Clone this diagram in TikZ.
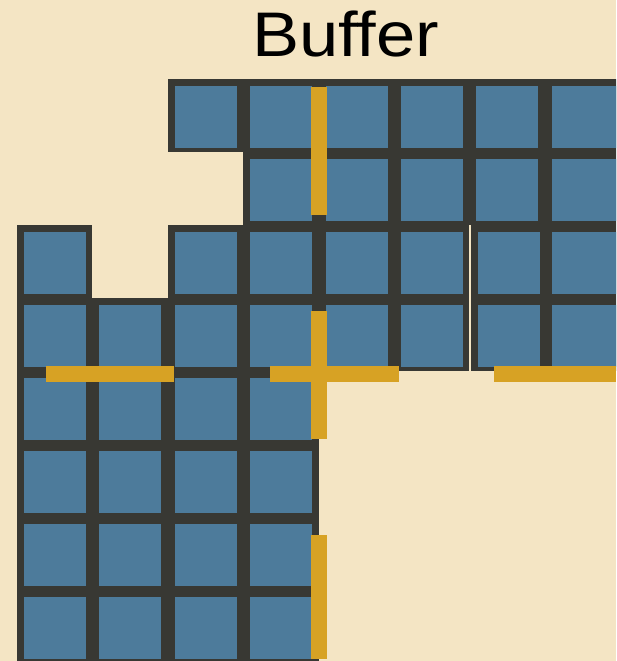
\documentclass[tikz,border=0pt]{standalone}
\usepackage{fontspec}
\setmainfont{Liberation Sans}
\definecolor{bg}{HTML}{F4E5C4}
\definecolor{cellborder}{HTML}{383833}
\definecolor{cellfill}{HTML}{4D7B9B}
\definecolor{barcol}{HTML}{D7A224}
\tikzset{
  cellouter/.style={fill=cellborder},
  cellinner/.style={fill=cellfill},
  barstyle/.style={fill=barcol},
  titlestyle/.style={inner sep=0pt, anchor=base, text=black}
}
\newcommand\gridcell[3]{% col,row,xshift
  \pgfmathsetmacro\cx{17+75.4*#1+#3}
  \pgfmathsetmacro\cy{79+73*#2}
  \fill[cellouter] (\cx,\cy) rectangle ++(75.4,73);
  \ifnum#1=7
    \fill[cellinner] (\cx+7,\cy+7) rectangle ++(80,61.5);
  \else
    \fill[cellinner] (\cx+7,\cy+7) rectangle ++(62,61.5);
  \fi
}
\begin{document}
\begin{tikzpicture}[x=1pt,y=-1pt]
  \useasboundingbox (0,0) rectangle (616,661);
  \fill[bg] (0,0) rectangle (616,661);
  \clip (0,0) rectangle (616,661);
  % row 0
  \foreach \c in {2,...,7} {\gridcell{\c}{0}{0}}
  % row 1
  \foreach \c in {3,...,7} {\gridcell{\c}{1}{0}}
  % rows 2 and 3
  \foreach \r in {2,3} {
    \gridcell{0}{\r}{0}
    \foreach \c in {2,...,5} {\gridcell{\c}{\r}{0}}
    \gridcell{6}{\r}{1.8}
    \gridcell{7}{\r}{0}
  }
  \gridcell{1}{3}{0}
  % rows 4 to 7
  \foreach \r in {4,...,7} {
    \foreach \c in {0,...,3} {\gridcell{\c}{\r}{0}}
  }
  % orange bars
  \fill[barstyle] (311,87) rectangle (327,215);
  \fill[barstyle] (46,366) rectangle (174,382);
  \fill[barstyle] (311,311) rectangle (327,439);
  \fill[barstyle] (270,366) rectangle (399,382);
  \fill[barstyle] (494,366) rectangle (616,382);
  \fill[barstyle] (311,535) rectangle (327,659);
  % title
  \node[titlestyle] (title) at (345.5,57) {\scalebox{1.12}[1]{\fontsize{63}{63}\selectfont Buffer}};
\end{tikzpicture}
\end{document}
